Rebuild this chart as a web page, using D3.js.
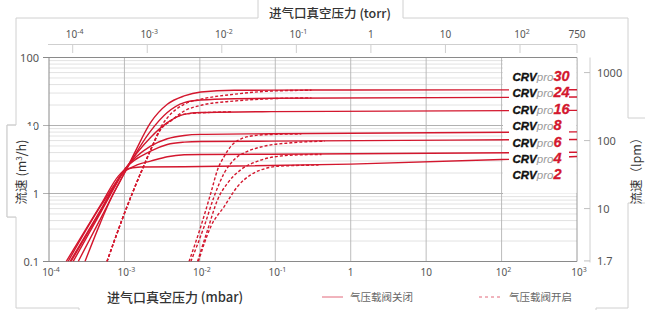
<!DOCTYPE html>
<html><head><meta charset="utf-8">
<script src="https://cdn.jsdelivr.net/npm/d3@7"></script>
<style>body{margin:0;background:#fff}svg{display:block}</style>
</head><body><svg id="c" width="645" height="310"></svg>
<script>
// ---------- data ----------
const xTicks = [1e-4, 1e-3, 1e-2, 1e-1, 1, 10, 100, 1000];
const xTickLabels = [["10","-4"],["10","-3"],["10","-2"],["10","-1"],["1",""],["10",""],["10","2"],["10","3"]];
const torrTicks = [1e-4, 1e-3, 1e-2, 1e-1, 1, 10, 100];
const torrTickLabels = [["10","-4"],["10","-3"],["10","-2"],["10","-1"],["1",""],["10",""],["10","2"]];
const torrEndLabel = "750";          // 750 torr = 1000 mbar
const torrEndMbar = 1000;
const yTicks = [0.1, 1, 10, 100];
const yTickLabels = ["0.1", "1", "10", "100"];
const lpmTicks = [1000, 100, 10, 1.7];
const lpmTickLabels = ["1000", "100", "10", "1.7"];
const M3H_TO_LPM = 1000 / 60;
const models = ["30", "24", "16", "8", "6", "4", "2"];

// valve closed (solid): [mbar, m3/h]
const closed30 = [[3.0e-4,0.1],[4.8e-4,0.37],[6.85e-4,0.91],[9.8e-4,1.9],[1.4e-3,4.2],[2.22e-3,11],[3.7e-3,20.5],[6.2e-3,27.2],[1.03e-2,31.1],[2.84e-2,33],[8.85e-2,33.1],[1,33.3],[1000,33.5]];
const closed24 = [[2.44e-4,0.1],[5e-4,0.46],[1e-3,2.0],[2.22e-3,8.26],[3.7e-3,15.5],[6.2e-3,21.7],[1.03e-2,23.7],[2.84e-2,24.8],[8.85e-2,25.1],[1000,26.2]];
const closed16 = [[2.09e-4,0.1],[5e-4,0.56],[1.03e-3,2.3],[2.22e-3,6.67],[3.7e-3,11.0],[6.2e-3,14.6],[1.03e-2,15.5],[8.85e-2,16.0],[1000,16.7]];
const closed8  = [[1.96e-4,0.1],[5e-4,0.59],[1.03e-3,2.34],[2.22e-3,4.97],[3.7e-3,6.38],[6.2e-3,7.14],[1.03e-2,7.4],[8.85e-2,7.57],[1000,8.05]];
const closed6  = [[1.9e-4,0.1],[5e-4,0.61],[1.03e-3,2.34],[2.22e-3,4.19],[3.7e-3,5.26],[6.2e-3,5.69],[1.03e-2,5.82],[8.85e-2,5.89],[1000,6.24]];
const closed4  = [[1.79e-4,0.1],[5e-4,0.69],[1.03e-3,2.14],[1.5e-3,2.65],[2.22e-3,2.99],[3.7e-3,3.47],[6.2e-3,3.71],[1.03e-2,3.75],[8.85e-2,3.78],[1000,4.05]];
const closed2  = [[1.69e-4,0.1],[5e-4,0.72],[8.3e-4,1.8],[1.03e-3,2.24],[1.63e-3,2.45],[1.03e-2,2.49],[1,2.7],[100,3.16],[1000,3.5]];

// gas ballast open (dashed)
const open30 = [[5.87e-4,0.1],[9.3e-4,0.412],[1.33e-3,1.14],[1.72e-3,2.25],[2.34e-3,4.97],[3.02e-3,9.38],[3.71e-3,13.0],[6.18e-3,20.5],[1.03e-2,24.3],[2.86e-2,28.8],[8.85e-2,32.1],[0.302,33.0]];
const open24 = [[5.87e-4,0.1],[9.3e-4,0.412],[1.33e-3,1.14],[1.72e-3,2.25],[2.34e-3,4.97],[3.02e-3,8.75],[4.1e-3,11.6],[6.18e-3,16.3],[1.03e-2,19.8],[2.86e-2,22.9],[8.85e-2,24.8],[0.302,25.5]];
const open16 = [[5.87e-4,0.1],[9.3e-4,0.412],[1.33e-3,1.14],[1.72e-3,2.25],[2.34e-3,4.97],[3.02e-3,8.75],[4.1e-3,11.8],[6.5e-3,14.8],[1.4e-2,15.6],[2.6e-2,15.9]];
const open8  = [[7.19e-3,0.1],[1.03e-2,0.328],[1.4e-2,1.02],[1.72e-2,2.25],[2.11e-2,3.54],[2.59e-2,4.97],[3.52e-2,6.38],[5.87e-2,7.21],[9.8e-2,7.4],[0.222,7.52]];
const open6  = [[7.59e-3,0.1],[1.14e-2,0.328],[1.55e-2,0.91],[2.11e-2,2.01],[2.86e-2,3.16],[4.33e-2,4.19],[7.19e-2,4.97],[0.163,5.57],[0.454,5.89]];
const open4  = [[9.31e-3,0.1],[1.27e-2,0.294],[1.72e-2,0.813],[2.34e-2,1.43],[3.52e-2,2.25],[5.87e-2,2.99],[9.8e-2,3.47],[0.222,3.71],[0.41,3.75]];
const open2  = [[9.55e-3,0.1],[1.4e-2,0.328],[2.11e-2,0.647],[3.18e-2,1.28],[4.79e-2,1.9],[7.19e-2,2.31],[0.109,2.52],[0.374,2.62]];

const closedSeries = [closed30, closed24, closed16, closed8, closed6, closed4, closed2];
const openSeries = [open30, open24, open16, open8, open6, open4, open2];

// ---------- layout ----------
const L = 49, R = 577, T = 57.5, B = 261.5;
const RED = "#d3172e";
const NUMF = "'Noto Sans', 'DejaVu Sans', sans-serif";
const CJK = "'Noto Sans CJK SC', sans-serif";

const svg = d3.select("#c");
const x = d3.scaleLog().domain([1e-4, 1e3]).range([L, R]);
const y = d3.scaleLog().domain([0.1, 100]).range([B, T]);
const yR = d3.scaleLog().domain([0.1 * M3H_TO_LPM, 100 * M3H_TO_LPM]).range([B, T]);
const xT = d3.scaleLog().domain([1e-4, 100]).range([72.7, 520]);

// frame decoration
svg.append("path")
  .attr("d", "M16,125V18H258V-1M403,-1V18H628V118H646M646,203H628V308H596V311M79,311V308H16V217H7V125H16")
  .attr("fill", "none").attr("stroke", "#d0d0d0").attr("stroke-width", 1);

// grid
const g = svg.append("g");
const minor = [];
[0.1, 1, 10].forEach(d => { for (let k = 2; k <= 9; k++) minor.push(k * d); });
g.selectAll("line.mn").data(minor).join("line")
  .attr("x1", L).attr("x2", R).attr("y1", d => y(d)).attr("y2", d => y(d))
  .attr("stroke", "#dadada").attr("stroke-width", 0.8);
g.selectAll("line.mj").data([1, 10]).join("line")
  .attr("x1", L - 6).attr("x2", R).attr("y1", d => y(d)).attr("y2", d => y(d))
  .attr("stroke", "#a8a8a8").attr("stroke-width", 0.9);
g.selectAll("line.vx").data(xTicks.slice(1, -1)).join("line")
  .attr("x1", d => x(d)).attr("x2", d => x(d)).attr("y1", T).attr("y2", B)
  .attr("stroke", "#b4b4b4").attr("stroke-width", 0.9);
// borders
g.append("line").attr("x1", L - 6).attr("x2", R).attr("y1", T).attr("y2", T).attr("stroke", "#8a8a8a");
g.append("line").attr("x1", L - 6).attr("x2", R).attr("y1", B).attr("y2", B).attr("stroke", "#8a8a8a");
g.append("line").attr("x1", L).attr("x2", L).attr("y1", T).attr("y2", B).attr("stroke", "#8a8a8a");
g.append("line").attr("x1", R).attr("x2", R).attr("y1", T).attr("y2", B).attr("stroke", "#9a9a9a");

// label box background (hides gridlines)
svg.append("rect").attr("x", 503).attr("y", T + 0.8).attr("width", R - 503 - 0.6).attr("height", 193 - T)
  .attr("fill", "#fff");

// curves
svg.append("clipPath").attr("id", "pc").append("rect")
  .attr("x", L).attr("y", T).attr("width", R - L).attr("height", B - T);
const line = d3.line().x(d => x(d[0])).y(d => y(d[1])).curve(d3.curveMonotoneX);
const cg = svg.append("g").attr("clip-path", "url(#pc)");
cg.selectAll("path.cl").data(closedSeries).join("path")
  .attr("d", line).attr("fill", "none").attr("stroke", RED).attr("stroke-width", 1.4);
cg.selectAll("path.op").data(openSeries).join("path")
  .attr("d", line).attr("fill", "none").attr("stroke", RED).attr("stroke-width", 1.4)
  .attr("stroke-dasharray", "3,2");

// labels area
svg.append("rect").attr("x", 509).attr("y", 61).attr("width", 60).attr("height", 128).attr("fill", "#fff");
const lab = svg.append("g");
models.forEach((m, i) => {
  const t = lab.append("text").attr("x", 512.5).attr("y", 81 + i * 16.4)
    .attr("font-family", "'Liberation Sans', Arial, sans-serif").attr("font-style", "italic");
  t.append("tspan").text("CRV").attr("font-weight", 900).attr("font-size", 11.5).attr("fill", "#111")
    .attr("stroke", "#111").attr("stroke-width", 0.35);
  t.append("tspan").text("pro").attr("font-size", 11.5).attr("fill", "#9a9a9a").attr("font-weight", 300);
  t.append("tspan").text(m).attr("font-weight", 700).attr("font-size", 14.5).attr("fill", RED)
    .attr("stroke", RED).attr("stroke-width", 0.3);
});

// superscript label helper
function supLabel(sel, base, exp) {
  sel.append("tspan").text(base);
  if (exp) sel.append("tspan").text(exp).attr("font-size", 7).attr("dy", -4);
}

// bottom axis
xTicks.forEach((v, i) => {
  const t = svg.append("text").attr("x", x(v) + (xTickLabels[i][1] ? 2 : 0)).attr("y", 276)
    .attr("text-anchor", "middle").attr("font-family", NUMF).attr("font-size", 10).attr("fill", "#555");
  supLabel(t, xTickLabels[i][0], xTickLabels[i][1]);
});

// top axis
svg.append("line").attr("x1", L - 1).attr("x2", R).attr("y1", 44.5).attr("y2", 44.5)
  .attr("stroke", "#cfcfcf");
const topPos = torrTicks.map(v => xT(v)).concat([x(torrEndMbar)]);
topPos.forEach(p => svg.append("line").attr("x1", p).attr("x2", p).attr("y1", 44.5).attr("y2", 53)
  .attr("stroke", "#cfcfcf"));
torrTicks.forEach((v, i) => {
  const t = svg.append("text").attr("x", xT(v) + (torrTickLabels[i][1] ? 2 : 0)).attr("y", 38)
    .attr("text-anchor", "middle").attr("font-family", NUMF).attr("font-size", 10).attr("fill", "#555");
  supLabel(t, torrTickLabels[i][0], torrTickLabels[i][1]);
});
svg.append("text").attr("x", x(torrEndMbar)).attr("y", 38).attr("text-anchor", "middle")
  .attr("font-family", NUMF).attr("font-size", 10).attr("fill", "#555").text(torrEndLabel);
svg.append("text").attr("x", 330).attr("y", 18).attr("text-anchor", "middle")
  .attr("font-family", CJK).attr("font-size", 12.5).attr("fill", "#333").attr("font-weight", 500)
  .text("进气口真空压力 (torr)");

// left axis labels
yTicks.forEach((v, i) => {
  svg.append("text").attr("x", 39).attr("y", y(v) + 4).attr("text-anchor", "end")
    .attr("font-family", NUMF).attr("font-size", 11).attr("fill", "#555").text(yTickLabels[i]);
});
// left title tab
svg.append("rect").attr("x", 7.5).attr("y", 126).attr("width", 26.5).attr("height", 90.5).attr("fill", "#fff");
svg.append("path").attr("d", "M16,125H7V217H16").attr("fill", "none").attr("stroke", "#d0d0d0");
const lt = svg.append("text").attr("transform", "translate(26,172) rotate(-90)").attr("text-anchor", "middle")
  .attr("font-family", CJK).attr("font-size", 12.5).attr("fill", "#333");
lt.append("tspan").text("流速 (m");
lt.append("tspan").text("3").attr("font-size", 8).attr("dy", -4);
lt.append("tspan").text("/h)").attr("dy", 4);

// right axis
svg.append("line").attr("x1", 590).attr("x2", 590).attr("y1", T).attr("y2", B + 1).attr("stroke", "#d0d0d0");
lpmTicks.forEach((v, i) => {
  svg.append("line").attr("x1", 584).attr("x2", 590).attr("y1", yR(v)).attr("y2", yR(v)).attr("stroke", "#c0c0c0");
  svg.append("text").attr("x", 597).attr("y", yR(v) + 4).attr("font-family", NUMF).attr("font-size", 11)
    .attr("fill", "#555").text(lpmTickLabels[i]);
});
svg.append("text").attr("transform", "translate(641,168) rotate(-90)").attr("text-anchor", "middle")
  .attr("font-family", CJK).attr("font-size", 12.5).attr("fill", "#333").text("流速（lpm）");

// bottom title & legend
svg.append("text").attr("x", 175).attr("y", 302).attr("text-anchor", "middle")
  .attr("font-family", CJK).attr("font-size", 13).attr("font-weight", 500).attr("fill", "#333")
  .text("进气口真空压力 (mbar)");
svg.append("line").attr("x1", 322).attr("x2", 343).attr("y1", 297).attr("y2", 297)
  .attr("stroke", "#e2687a").attr("stroke-width", 1);
svg.append("text").attr("x", 350).attr("y", 301).attr("font-family", CJK).attr("font-size", 10.5)
  .attr("fill", "#666").text("气压载阀关闭");
svg.append("line").attr("x1", 479).attr("x2", 501).attr("y1", 297).attr("y2", 297)
  .attr("stroke", "#e2687a").attr("stroke-width", 1).attr("stroke-dasharray", "3,3");
svg.append("text").attr("x", 509).attr("y", 301).attr("font-family", CJK).attr("font-size", 10.5)
  .attr("fill", "#666").text("气压载阀开启");
</script></body></html>
